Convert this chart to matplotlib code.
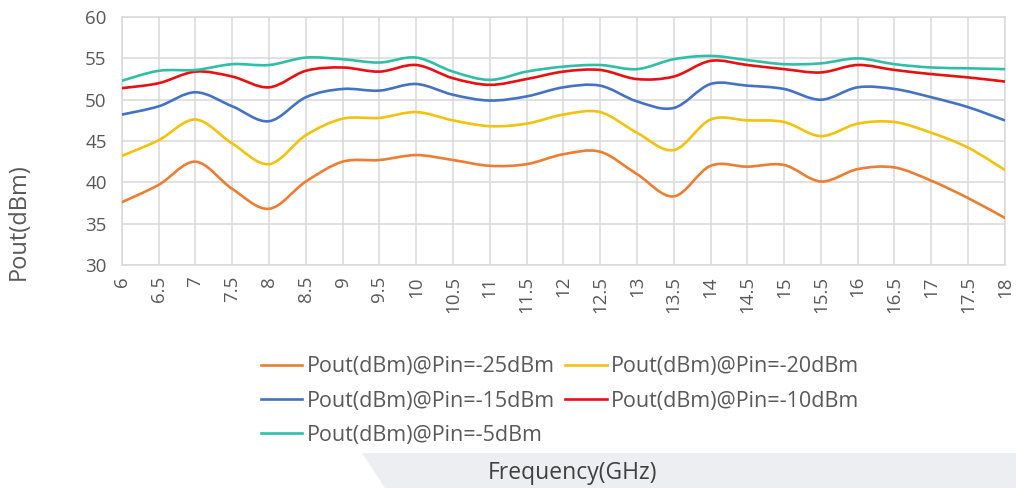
import numpy as np
import matplotlib.pyplot as plt
from matplotlib.path import Path
from matplotlib.patches import PathPatch, Polygon
from matplotlib.lines import Line2D

plt.rcParams['font.family'] = ['Open Sans', 'DejaVu Sans']

# frequency points (GHz)
freq = [6, 6.5, 7, 7.5, 8, 8.5, 9, 9.5, 10, 10.5, 11, 11.5, 12,
        12.5, 13, 13.5, 14, 14.5, 15, 15.5, 16, 16.5, 17, 17.5, 18]

# Pout (dBm) for each input power
pout_25 = [37.6, 39.7, 42.5, 39.2, 36.8, 40.1, 42.5, 42.7, 43.3, 42.7, 42.0, 42.2, 43.4,
           43.7, 41.0, 38.3, 42.0, 41.9, 42.1, 40.1, 41.6, 41.8, 40.2, 38.1, 35.7]
pout_20 = [43.2, 45.1, 47.6, 44.7, 42.2, 45.7, 47.7, 47.8, 48.5, 47.5, 46.8, 47.1, 48.2,
           48.5, 46.0, 43.9, 47.6, 47.5, 47.3, 45.6, 47.1, 47.3, 46.0, 44.2, 41.5]
pout_15 = [48.2, 49.2, 50.9, 49.2, 47.4, 50.3, 51.3, 51.1, 51.9, 50.6, 49.9, 50.4, 51.5,
           51.7, 49.8, 49.0, 51.9, 51.7, 51.3, 50.0, 51.5, 51.3, 50.3, 49.1, 47.5]
pout_10 = [51.4, 52.0, 53.4, 52.8, 51.5, 53.5, 53.9, 53.4, 54.2, 52.6, 51.8, 52.5, 53.4,
           53.6, 52.5, 52.8, 54.7, 54.2, 53.7, 53.3, 54.2, 53.6, 53.1, 52.7, 52.2]
pout_5 = [52.3, 53.5, 53.6, 54.3, 54.2, 55.1, 54.9, 54.5, 55.1, 53.4, 52.4, 53.4, 54.0,
          54.2, 53.7, 54.9, 55.3, 54.8, 54.3, 54.4, 55.0, 54.3, 53.9, 53.8, 53.7]

labels = ['Pout(dBm)@Pin=-25dBm', 'Pout(dBm)@Pin=-20dBm', 'Pout(dBm)@Pin=-15dBm',
          'Pout(dBm)@Pin=-10dBm', 'Pout(dBm)@Pin=-5dBm']
colors = ['#ED7D31', '#F2C20C', '#4472C4', '#E81010', '#2FBFA6']
series = [pout_25, pout_20, pout_15, pout_10, pout_5]


def smooth_path(x, y, t=1.0 / 6):
    # excel-like smoothed line: bezier through points
    x = np.asarray(x, float)
    y = np.asarray(y, float)
    verts = [(x[0], y[0])]
    codes = [Path.MOVETO]
    n = len(x)
    for i in range(n - 1):
        p0 = i - 1 if i > 0 else i
        p3 = i + 2 if i + 2 < n else i + 1
        c1 = (x[i] + (x[i + 1] - x[p0]) * t, y[i] + (y[i + 1] - y[p0]) * t)
        c2 = (x[i + 1] - (x[p3] - x[i]) * t, y[i + 1] - (y[p3] - y[i]) * t)
        verts += [c1, c2, (x[i + 1], y[i + 1])]
        codes += [Path.CURVE4] * 3
    return Path(verts, codes)


fig = plt.figure(figsize=(10.16, 4.88), dpi=100)
ax = fig.add_axes([0.120, 0.457, 0.869, 0.508])

for y, c in zip(series, colors):
    ax.add_patch(PathPatch(smooth_path(freq, y), facecolor='none', edgecolor=c,
                           lw=1.9, capstyle='round', zorder=3))

ax.set_xlim(6, 18)
ax.set_ylim(30, 60)
ax.set_xticks(freq)
ax.set_xticklabels([f'{v:g}' for v in freq], rotation=90)
ax.set_yticks(range(30, 61, 5))
ax.grid(True, color='#d9d9d9', lw=1.1)
ax.set_axisbelow(True)
for s in ax.spines.values():
    s.set_color('#d9d9d9')
    s.set_linewidth(1.1)
ax.tick_params(length=0, labelsize=13.5, colors='#595959', pad=8)
ax.tick_params(axis='y', pad=11)

fig.text(0.018, 0.545, 'Pout(dBm)', rotation=90, ha='center', va='center',
         fontsize=17, color='#595959')

# grey band behind the x axis title
fig.patches.append(Polygon([[362 / 1016, 1 - 453 / 488], [1.0, 1 - 453 / 488],
                            [1.0, 0.0], [385 / 1016, 0.0]], closed=True,
                           transform=fig.transFigure, facecolor='#eceef2',
                           edgecolor='none', zorder=0))
fig.text(0.563, 0.031, 'Frequency(GHz)', ha='center', va='center',
         fontsize=16.5, color='#404040')

# legend filled row by row like the original
order = [0, 2, 4, 1, 3]
handles = [Line2D([], [], color=colors[i], lw=1.9) for i in order]
fig.legend(handles, [labels[i] for i in order], ncol=2, loc='center',
           bbox_to_anchor=(0.551, 0.178), frameon=False, fontsize=15.5,
           handlelength=1.95, columnspacing=0.45, handletextpad=0.2,
           labelspacing=0.62, labelcolor='#595959')

fig.savefig('out.png', dpi=100)
